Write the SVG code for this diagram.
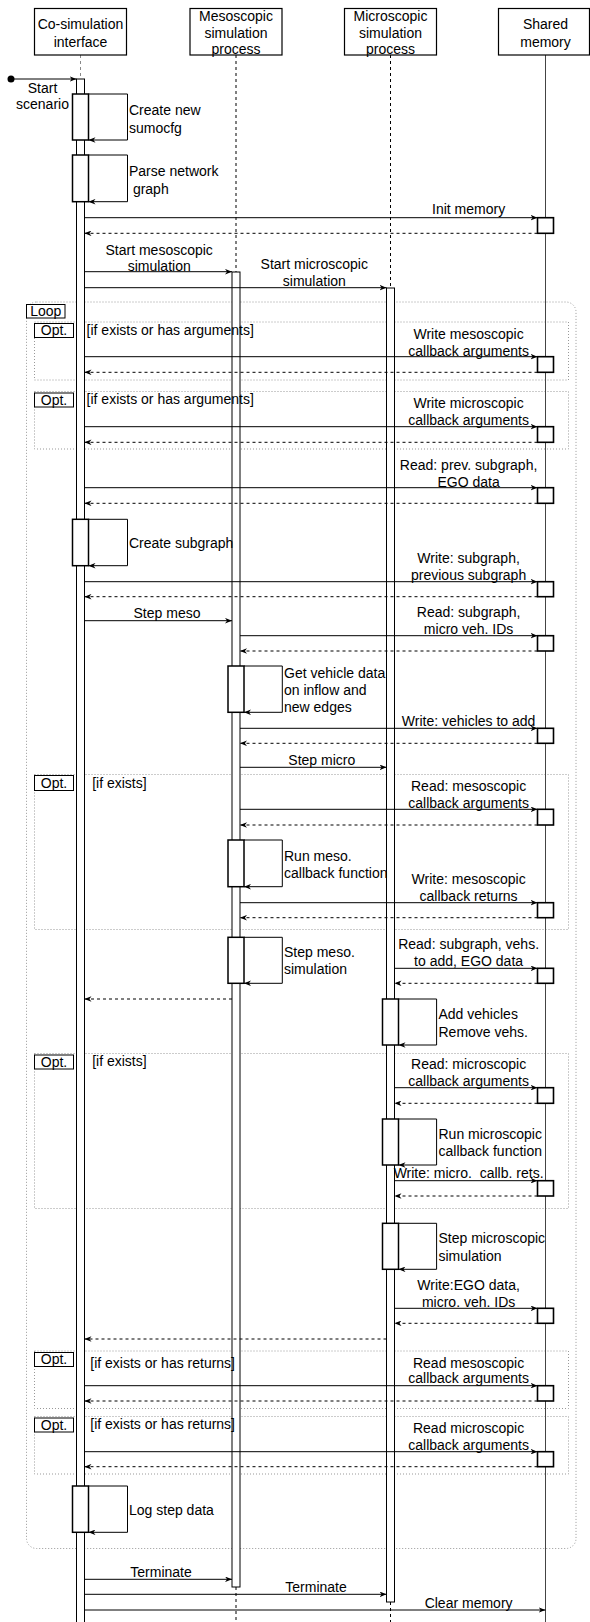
<svg xmlns="http://www.w3.org/2000/svg" width="590" height="1622" viewBox="0 0 590 1622">
<style>
text{font-family:"Liberation Sans",Arial,sans-serif;font-size:14px;fill:#000}
.c{text-anchor:middle}
.hdr{fill:#fff;stroke:#000;stroke-width:1.2}
.bar{fill:#fff;stroke:#000;stroke-width:1}
.act{fill:#fff;stroke:#000;stroke-width:1.5}
.mem{fill:#fff;stroke:#000;stroke-width:1.6}
.ll{stroke:#000;stroke-width:1;stroke-dasharray:3 3;fill:none}
.sl{stroke:#444;stroke-width:1;fill:none}
.msg{stroke:#000;stroke-width:1;fill:none;marker-end:url(#ah)}
.ret{stroke:#000;stroke-width:1;fill:none;stroke-dasharray:3 3;marker-end:url(#ah)}
.self{stroke:#000;stroke-width:1;fill:none;marker-end:url(#ah)}
.frm{fill:none;stroke:#999;stroke-width:1;stroke-dasharray:1 2}
.lbl{fill:#fff;stroke:#000;stroke-width:1}
</style>
<defs>
<marker id="ah" viewBox="0 0 10 8" refX="10" refY="4" markerWidth="7" markerHeight="5.6" markerUnits="userSpaceOnUse" orient="auto">
<path d="M0,0 L10,4 L0,8 L3,4 Z" fill="#000"/>
</marker>
</defs>

<!-- frames -->
<g id="frames">
<rect class="frm" x="26.5" y="302" width="549.5" height="1246.5" rx="10"/>
<rect class="frm" x="34.5" y="322" width="534" height="58"/>
<rect class="frm" x="34.5" y="391.5" width="534" height="57.5"/>
<rect class="frm" x="34.5" y="774.5" width="534" height="155"/>
<rect class="frm" x="34.5" y="1053.5" width="534" height="155"/>
<rect class="frm" x="34.5" y="1351" width="534" height="57.5"/>
<rect class="frm" x="34.5" y="1416.5" width="534" height="57.5"/>
</g>

<!-- lifelines -->
<g id="lifelines">
<line class="ll" x1="80.5" y1="55" x2="80.5" y2="79" style="stroke:#888"/>
<line class="ll" x1="236" y1="55" x2="236" y2="272"/>
<line class="ll" x1="236" y1="1587" x2="236" y2="1622"/>
<line class="ll" x1="390.5" y1="55" x2="390.5" y2="288"/>
<line class="ll" x1="390.5" y1="1602" x2="390.5" y2="1622"/>
<line class="sl" x1="545.5" y1="55" x2="545.5" y2="1622"/>
<rect class="bar" x="76.5" y="79" width="8" height="1560"/>
<rect class="bar" x="232" y="272" width="8" height="1315"/>
<rect class="bar" x="386.5" y="288" width="8" height="1314"/>
</g>

<!-- headers -->
<g id="cosim">
<rect class="hdr" x="34.5" y="8.5" width="92" height="46.5"/>
<text class="c" x="80.5" y="29.3">Co-simulation</text>
<text class="c" x="80.5" y="46.7">interface</text>
</g>
<g id="meso">
<rect class="hdr" x="190" y="8.5" width="92" height="46.5"/>
<text class="c" x="236" y="21">Mesoscopic</text>
<text class="c" x="236" y="37.7">simulation</text>
<text class="c" x="236" y="54.3">process</text>
</g>
<g id="micro">
<rect class="hdr" x="344.5" y="8.5" width="92" height="46.5"/>
<text class="c" x="390.5" y="21">Microscopic</text>
<text class="c" x="390.5" y="37.7">simulation</text>
<text class="c" x="390.5" y="54.3">process</text>
</g>
<g id="shared">
<rect class="hdr" x="498.5" y="8.5" width="91" height="46.5"/>
<text class="c" x="545.5" y="29.3">Shared</text>
<text class="c" x="545.5" y="46.7">memory</text>
</g>

<!-- start -->
<g id="start">
<circle cx="11" cy="79" r="3.5" fill="#000"/>
<text class="c" x="42.5" y="92.7">Start</text>
<text class="c" x="42.5" y="109">scenario</text>
</g>

<!-- connectors -->
<g id="connectors">
<line class="msg" x1="11" y1="79" x2="76.5" y2="79"/>
<!-- self loops cosim -->
<polyline class="self" points="88.5,94 127.5,94 127.5,140 88.5,140"/>
<polyline class="self" points="88.5,155 127.5,155 127.5,201.7 88.5,201.7"/>
<polyline class="self" points="88.5,519.3 127.5,519.3 127.5,565.7 88.5,565.7"/>
<polyline class="self" points="88.5,1486 127.5,1486 127.5,1532.3 88.5,1532.3"/>
<!-- self loops meso -->
<polyline class="self" points="244,666 282.3,666 282.3,712.3 244,712.3"/>
<polyline class="self" points="244,840 282.3,840 282.3,886.7 244,886.7"/>
<polyline class="self" points="244,937.3 282.3,937.3 282.3,983.3 244,983.3"/>
<!-- self loops micro -->
<polyline class="self" points="398.5,999 436.6,999 436.6,1045 398.5,1045"/>
<polyline class="self" points="398.5,1119 436.6,1119 436.6,1165 398.5,1165"/>
<polyline class="self" points="398.5,1223.3 436.6,1223.3 436.6,1269.3 398.5,1269.3"/>

<!-- cosim -> shared -->
<line class="msg" x1="84.5" y1="217.7" x2="537.5" y2="217.7"/>
<line class="ret" x1="537.5" y1="233.3" x2="84.5" y2="233.3"/>
<line class="msg" x1="84.5" y1="356.7" x2="537.5" y2="356.7"/>
<line class="ret" x1="537.5" y1="372.3" x2="84.5" y2="372.3"/>
<line class="msg" x1="84.5" y1="426.7" x2="537.5" y2="426.7"/>
<line class="ret" x1="537.5" y1="442.3" x2="84.5" y2="442.3"/>
<line class="msg" x1="84.5" y1="487.7" x2="537.5" y2="487.7"/>
<line class="ret" x1="537.5" y1="503.3" x2="84.5" y2="503.3"/>
<line class="msg" x1="84.5" y1="581.7" x2="537.5" y2="581.7"/>
<line class="ret" x1="537.5" y1="596.7" x2="84.5" y2="596.7"/>
<line class="msg" x1="84.5" y1="1385.7" x2="537.5" y2="1385.7"/>
<line class="ret" x1="537.5" y1="1401" x2="84.5" y2="1401"/>
<line class="msg" x1="84.5" y1="1451.7" x2="537.5" y2="1451.7"/>
<line class="ret" x1="537.5" y1="1466.7" x2="84.5" y2="1466.7"/>
<!-- cosim -> meso / micro -->
<line class="msg" x1="84.5" y1="271.7" x2="232" y2="271.7"/>
<line class="msg" x1="84.5" y1="287.7" x2="386.5" y2="287.7"/>
<line class="msg" x1="84.5" y1="620.7" x2="232" y2="620.7"/>
<line class="msg" x1="84.5" y1="1579.3" x2="232" y2="1579.3"/>
<line class="msg" x1="84.5" y1="1594.3" x2="386.5" y2="1594.3"/>
<line class="msg" x1="84.5" y1="1610" x2="545.5" y2="1610"/>
<!-- meso -> shared -->
<line class="msg" x1="240" y1="635.7" x2="537.5" y2="635.7"/>
<line class="ret" x1="537.5" y1="651" x2="240" y2="651"/>
<line class="msg" x1="240" y1="728.3" x2="537.5" y2="728.3"/>
<line class="ret" x1="537.5" y1="743.3" x2="240" y2="743.3"/>
<line class="msg" x1="240" y1="809.3" x2="537.5" y2="809.3"/>
<line class="ret" x1="537.5" y1="825" x2="240" y2="825"/>
<line class="msg" x1="240" y1="902.7" x2="537.5" y2="902.7"/>
<line class="ret" x1="537.5" y1="917.7" x2="240" y2="917.7"/>
<!-- meso -> micro -->
<line class="msg" x1="240" y1="767.3" x2="386.5" y2="767.3"/>
<!-- micro -> shared -->
<line class="msg" x1="394.5" y1="968.3" x2="537.5" y2="968.3"/>
<line class="ret" x1="537.5" y1="983.3" x2="394.5" y2="983.3"/>
<line class="msg" x1="394.5" y1="1087.7" x2="537.5" y2="1087.7"/>
<line class="ret" x1="537.5" y1="1103.3" x2="394.5" y2="1103.3"/>
<line class="msg" x1="394.5" y1="1180.7" x2="537.5" y2="1180.7"/>
<line class="ret" x1="537.5" y1="1196" x2="394.5" y2="1196"/>
<line class="msg" x1="394.5" y1="1308.3" x2="537.5" y2="1308.3"/>
<line class="ret" x1="537.5" y1="1323.3" x2="394.5" y2="1323.3"/>
<!-- returns to cosim -->
<line class="ret" x1="232" y1="999" x2="84.5" y2="999"/>
<line class="ret" x1="386.5" y1="1339" x2="84.5" y2="1339"/>
</g>

<!-- activations -->
<g id="activations">
<rect class="act" x="72.5" y="94" width="16" height="46"/>
<rect class="act" x="72.5" y="155" width="16" height="46.7"/>
<rect class="act" x="72.5" y="519.3" width="16" height="46.4"/>
<rect class="act" x="72.5" y="1486" width="16" height="46.3"/>
<rect class="act" x="228" y="666" width="16" height="46.3"/>
<rect class="act" x="228" y="840" width="16" height="46.7"/>
<rect class="act" x="228" y="937.3" width="16" height="46"/>
<rect class="act" x="382.5" y="999" width="16" height="46"/>
<rect class="act" x="382.5" y="1119" width="16" height="46"/>
<rect class="act" x="382.5" y="1223.3" width="16" height="46"/>
</g>

<!-- memory boxes -->
<g id="memory-boxes">
<rect class="mem" x="537.5" y="217.7" width="16" height="15.6"/>
<rect class="mem" x="537.5" y="356.7" width="16" height="15.6"/>
<rect class="mem" x="537.5" y="426.7" width="16" height="15.6"/>
<rect class="mem" x="537.5" y="487.7" width="16" height="15.6"/>
<rect class="mem" x="537.5" y="581.7" width="16" height="15"/>
<rect class="mem" x="537.5" y="635.7" width="16" height="15.3"/>
<rect class="mem" x="537.5" y="728.3" width="16" height="15"/>
<rect class="mem" x="537.5" y="809.3" width="16" height="15.7"/>
<rect class="mem" x="537.5" y="902.7" width="16" height="15"/>
<rect class="mem" x="537.5" y="968.3" width="16" height="15"/>
<rect class="mem" x="537.5" y="1087.7" width="16" height="15.6"/>
<rect class="mem" x="537.5" y="1180.7" width="16" height="15.3"/>
<rect class="mem" x="537.5" y="1308.3" width="16" height="15"/>
<rect class="mem" x="537.5" y="1385.7" width="16" height="15.3"/>
<rect class="mem" x="537.5" y="1451.7" width="16" height="15"/>
</g>

<!-- frame labels -->
<g id="frame-labels">
<rect class="lbl" x="26.5" y="304.5" width="38.5" height="13.5"/>
<text class="c" x="45.8" y="316">Loop</text>
<rect class="lbl" x="34.5" y="323.5" width="39" height="14"/>
<text class="c" x="54" y="335">Opt.</text>
<text x="86.6" y="334.5">[if exists or has arguments]</text>
<rect class="lbl" x="34.5" y="393" width="39" height="14"/>
<text class="c" x="54" y="404.5">Opt.</text>
<text x="86.6" y="404.3">[if exists or has arguments]</text>
<rect class="lbl" x="34.5" y="775.5" width="39" height="15"/>
<text class="c" x="54" y="787.7">Opt.</text>
<text x="92.2" y="787.7">[if exists]</text>
<rect class="lbl" x="34.5" y="1055" width="39" height="14"/>
<text class="c" x="54" y="1066.5">Opt.</text>
<text x="92.2" y="1066">[if exists]</text>
<rect class="lbl" x="34.5" y="1352.5" width="39" height="14"/>
<text class="c" x="54" y="1364">Opt.</text>
<text x="90.3" y="1367.7">[if exists or has returns]</text>
<rect class="lbl" x="34.5" y="1418" width="39" height="14"/>
<text class="c" x="54" y="1429.5">Opt.</text>
<text x="90.3" y="1429.3">[if exists or has returns]</text>
</g>

<!-- message labels -->
<g id="labels">
<text x="129" y="115">Create new</text>
<text x="129" y="132.7">sumocfg</text>
<text x="129" y="176" xml:space="preserve">Parse network</text>
<text x="129" y="194.3" xml:space="preserve"> graph</text>
<text class="c" x="468.6" y="214">Init memory</text>
<text class="c" x="159.2" y="255">Start mesoscopic</text>
<text class="c" x="159.2" y="271">simulation</text>
<text class="c" x="314.3" y="269">Start microscopic</text>
<text class="c" x="314.3" y="285.7">simulation</text>
<text class="c" x="468.6" y="339">Write mesoscopic</text>
<text class="c" x="468.6" y="355.7">callback arguments</text>
<text class="c" x="468.6" y="408.3">Write microscopic</text>
<text class="c" x="468.6" y="425">callback arguments</text>
<text class="c" x="468.6" y="470">Read: prev. subgraph,</text>
<text class="c" x="468.6" y="486.7">EGO data</text>
<text x="129" y="548.3">Create subgraph</text>
<text class="c" x="468.6" y="563.3">Write: subgraph,</text>
<text class="c" x="468.6" y="580">previous subgraph</text>
<text class="c" x="167" y="618.3">Step meso</text>
<text class="c" x="468.6" y="617.3">Read: subgraph,</text>
<text class="c" x="468.6" y="634">micro veh. IDs</text>
<text x="284" y="678.3">Get vehicle data</text>
<text x="284" y="695">on inflow and</text>
<text x="284" y="711.7">new edges</text>
<text class="c" x="468.6" y="725.7">Write: vehicles to add</text>
<text class="c" x="321.8" y="765">Step micro</text>
<text class="c" x="468.6" y="791">Read: mesoscopic</text>
<text class="c" x="468.6" y="807.7">callback arguments</text>
<text x="284" y="861">Run meso.</text>
<text x="284" y="877.7">callback function</text>
<text class="c" x="468.6" y="884">Write: mesoscopic</text>
<text class="c" x="468.6" y="900.7">callback returns</text>
<text x="284" y="957.3">Step meso.</text>
<text x="284" y="974">simulation</text>
<text class="c" x="468.6" y="949.3">Read: subgraph, vehs.</text>
<text class="c" x="468.6" y="966">to add, EGO data</text>
<text x="438.5" y="1019.3">Add vehicles</text>
<text x="438.5" y="1036.7">Remove vehs.</text>
<text class="c" x="468.6" y="1069.3">Read: microscopic</text>
<text class="c" x="468.6" y="1086">callback arguments</text>
<text x="438.5" y="1139.3">Run microscopic</text>
<text x="438.5" y="1156">callback function</text>
<text class="c" x="468.6" y="1178.3" xml:space="preserve">Write: micro.  callb. rets.</text>
<text x="438.5" y="1243.3">Step microscopic</text>
<text x="438.5" y="1260.7">simulation</text>
<text class="c" x="468.6" y="1290">Write:EGO data,</text>
<text class="c" x="468.6" y="1306.7">micro. veh. IDs</text>
<text class="c" x="468.6" y="1367.7">Read mesoscopic</text>
<text class="c" x="468.6" y="1383.3">callback arguments</text>
<text class="c" x="468.6" y="1433.3">Read microscopic</text>
<text class="c" x="468.6" y="1450">callback arguments</text>
<text x="129" y="1515">Log step data</text>
<text class="c" x="161" y="1576.7">Terminate</text>
<text class="c" x="316" y="1591.7">Terminate</text>
<text class="c" x="468.6" y="1607.7">Clear memory</text>
</g>
</svg>
